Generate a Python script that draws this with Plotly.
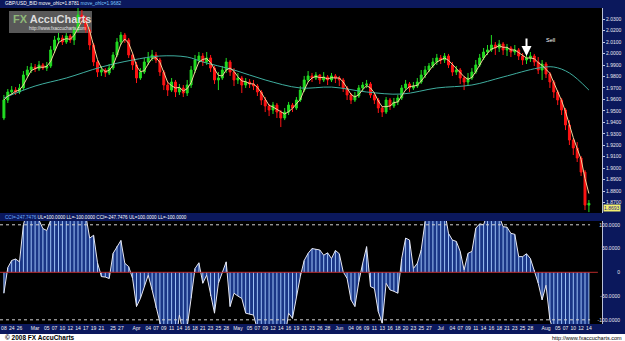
import pandas as pd
import plotly.graph_objects as go

W, H = 625, 341

# ---------------- data ----------------
bar_dates = [d.strftime("%Y-%m-%d") for d in pd.date_range("2008-02-21", "2008-08-14") if d.weekday() != 5]

opens = [1.9438,1.9595,1.9665,1.9682,1.9665,1.9700,1.9813,1.9857,1.9883,1.9866,
1.9901,1.9874,1.9892,2.0032,2.0119,2.0136,2.0101,2.0154,2.0119,2.0206,
2.0337,2.0311,2.0206,2.0075,1.9927,1.9839,1.9857,1.9831,1.9874,1.9988,
2.0101,2.0162,2.0119,1.9988,1.9901,1.9787,1.9839,1.9927,1.9962,1.9988,
1.9944,1.9839,1.9726,1.9682,1.9752,1.9665,1.9700,1.9656,1.9726,1.9857,
1.9944,1.9979,1.9927,1.9962,1.9874,1.9770,1.9787,1.9857,1.9927,1.9839,
1.9770,1.9787,1.9726,1.9752,1.9735,1.9717,1.9665,1.9595,1.9543,1.9508,
1.9551,1.9490,1.9438,1.9490,1.9551,1.9525,1.9595,1.9682,1.9770,1.9805,
1.9787,1.9813,1.9770,1.9796,1.9770,1.9805,1.9787,1.9770,1.9700,1.9639,
1.9595,1.9630,1.9700,1.9726,1.9735,1.9639,1.9595,1.9525,1.9490,1.9595,
1.9543,1.9578,1.9613,1.9700,1.9735,1.9700,1.9717,1.9752,1.9813,1.9857,
1.9892,1.9927,1.9962,1.9944,1.9979,1.9901,1.9839,1.9857,1.9787,1.9752,
1.9787,1.9839,1.9901,1.9962,2.0014,2.0032,2.0075,2.0049,2.0084,2.0032,
2.0049,2.0014,2.0032,1.9979,1.9944,1.9962,1.9979,1.9927,1.9857,1.9909,
1.9822,1.9752,1.9665,1.9595,1.9508,1.9377,1.9246,1.9176,1.9089,1.8966,
1.8678]

highs = [1.9639,1.9691,1.9717,1.9708,1.9735,1.9848,1.9892,1.9918,1.9909,1.9936,
1.9918,1.9927,2.0066,2.0154,2.0180,2.0162,2.0180,2.0171,2.0232,2.0398,
2.0381,2.0328,2.0232,2.0093,1.9944,1.9892,1.9874,1.9909,2.0014,2.0136,
2.0189,2.0180,2.0136,2.0005,1.9927,1.9874,1.9962,2.0014,2.0032,2.0014,
1.9962,1.9857,1.9752,1.9787,1.9770,1.9735,1.9726,1.9770,1.9892,1.9988,
2.0014,2.0005,2.0014,1.9988,1.9892,1.9839,1.9892,1.9962,1.9944,1.9874,
1.9831,1.9805,1.9787,1.9778,1.9770,1.9735,1.9682,1.9621,1.9560,1.9578,
1.9569,1.9508,1.9525,1.9578,1.9569,1.9621,1.9717,1.9805,1.9848,1.9831,
1.9839,1.9822,1.9839,1.9813,1.9831,1.9822,1.9805,1.9787,1.9717,1.9656,
1.9665,1.9726,1.9752,1.9770,1.9752,1.9656,1.9613,1.9543,1.9621,1.9613,
1.9613,1.9639,1.9726,1.9770,1.9752,1.9752,1.9787,1.9857,1.9892,1.9918,
1.9962,1.9997,1.9988,2.0005,1.9997,1.9927,1.9892,1.9874,1.9805,1.9831,
1.9874,1.9944,1.9997,2.0049,2.0075,2.0162,2.0101,2.0119,2.0101,2.0084,
2.0066,2.0075,2.0049,2.0005,1.9997,2.0014,1.9997,1.9970,1.9944,1.9927,
1.9839,1.9770,1.9682,1.9613,1.9525,1.9420,1.9263,1.9228,1.9106,1.8984,
1.8722]

lows = [1.9420,1.9569,1.9639,1.9639,1.9647,1.9682,1.9787,1.9831,1.9839,1.9848,
1.9857,1.9848,1.9874,2.0005,2.0084,2.0075,2.0084,2.0093,2.0075,2.0189,
2.0259,2.0180,2.0032,1.9892,1.9796,1.9805,1.9796,1.9813,1.9857,1.9970,
2.0075,2.0093,1.9962,1.9857,1.9743,1.9770,1.9822,1.9901,1.9936,1.9918,
1.9805,1.9682,1.9630,1.9665,1.9621,1.9639,1.9621,1.9630,1.9700,1.9831,
1.9918,1.9892,1.9901,1.9839,1.9735,1.9682,1.9770,1.9831,1.9805,1.9717,
1.9735,1.9656,1.9700,1.9700,1.9682,1.9630,1.9551,1.9490,1.9455,1.9473,
1.9438,1.9359,1.9420,1.9464,1.9490,1.9508,1.9578,1.9665,1.9752,1.9752,
1.9770,1.9735,1.9752,1.9726,1.9752,1.9743,1.9717,1.9665,1.9595,1.9560,
1.9578,1.9613,1.9674,1.9700,1.9613,1.9560,1.9482,1.9447,1.9473,1.9508,
1.9525,1.9551,1.9595,1.9682,1.9665,1.9682,1.9700,1.9735,1.9787,1.9839,
1.9874,1.9901,1.9909,1.9918,1.9874,1.9805,1.9813,1.9735,1.9682,1.9717,
1.9770,1.9822,1.9883,1.9944,1.9988,2.0014,1.9988,2.0014,1.9988,1.9979,
1.9970,1.9988,1.9944,1.9901,1.9909,1.9927,1.9892,1.9822,1.9770,1.9787,
1.9700,1.9613,1.9551,1.9464,1.9333,1.9202,1.9115,1.9054,1.8932,1.8635,
1.8617]

closes = [1.9595,1.9665,1.9682,1.9665,1.9700,1.9813,1.9857,1.9883,1.9866,1.9901,
1.9874,1.9892,2.0032,2.0119,2.0136,2.0101,2.0154,2.0119,2.0206,2.0337,
2.0311,2.0206,2.0075,1.9927,1.9839,1.9857,1.9831,1.9874,1.9988,2.0101,
2.0162,2.0119,1.9988,1.9901,1.9787,1.9839,1.9927,1.9962,1.9988,1.9944,
1.9839,1.9726,1.9682,1.9752,1.9665,1.9700,1.9656,1.9726,1.9857,1.9944,
1.9979,1.9927,1.9962,1.9874,1.9770,1.9787,1.9857,1.9927,1.9839,1.9770,
1.9787,1.9726,1.9752,1.9735,1.9717,1.9665,1.9595,1.9543,1.9508,1.9551,
1.9490,1.9438,1.9490,1.9551,1.9525,1.9595,1.9682,1.9770,1.9805,1.9787,
1.9813,1.9770,1.9796,1.9770,1.9805,1.9787,1.9770,1.9700,1.9639,1.9595,
1.9630,1.9700,1.9726,1.9735,1.9639,1.9595,1.9525,1.9490,1.9595,1.9543,
1.9578,1.9613,1.9700,1.9735,1.9700,1.9717,1.9752,1.9813,1.9857,1.9892,
1.9927,1.9962,1.9944,1.9979,1.9901,1.9839,1.9857,1.9787,1.9752,1.9787,
1.9839,1.9901,1.9962,2.0014,2.0032,2.0075,2.0049,2.0084,2.0032,2.0049,
2.0014,2.0032,1.9979,1.9944,1.9962,1.9979,1.9927,1.9857,1.9909,1.9822,
1.9752,1.9665,1.9595,1.9508,1.9377,1.9246,1.9176,1.9089,1.8966,1.8678,
1.8693]

# long moving average at selected bars
long_ma_idx = [0, 8, 16, 25, 33, 40, 47, 51, 59, 67, 76, 84, 93, 102, 111, 120, 128, 137, 141, 145, 150]
long_ma_val = [1.9613, 1.9717, 1.9787, 1.9883, 1.9944, 1.9979, 1.9970, 1.9927, 1.9857, 1.9770, 1.9700,
               1.9708, 1.9665, 1.9647, 1.9700, 1.9726, 1.9796, 1.9874, 1.9883, 1.9831, 1.9682]

cci = [-44,10,25,28,22,100,130,140,120,110,
92,88,110,160,150,140,150,140,170,200,
180,120,72,78,20,-9,-10,-13,40,55,
67,19,12,-13,-72,-55,-30,-6,-37,-75,
-111,-140,-160,-130,-150,-90,-130,-115,-55,8,
20,-23,-6,-50,-86,-23,0,22,-72,-44,
-50,-55,-86,-88,-90,-120,-150,-170,-180,-140,
-160,-190,-140,-86,-97,-51,-9,25,40,50,
49,47,36,41,29,46,39,1,-13,-58,
-72,-20,19,54,-30,-34,-83,-107,-23,-37,
-40,-44,29,72,68,8,19,47,107,150,
170,160,140,130,82,68,65,44,5,40,
44,93,102,100,130,150,140,120,96,95,
82,80,33,33,39,29,5,-23,-58,-27,
-100,-130,-160,-180,-200,-230,-250,-240,-230,-250,
-247.7476]
cci_upper, cci_lower = 100, -100

price_ticks = [1.87, 1.88, 1.89, 1.90, 1.91, 1.92, 1.93, 1.94, 1.95, 1.96, 1.97, 1.98, 1.99, 2.00, 2.01, 2.02, 2.03]
cci_ticks = [100, 50, 0, -50, -100]
cci_tick_text = ["100.0000", "50.0000", "0", "-50.0000", "-100.0000"]

tick_dates = ["2008-02-21","2008-02-24","2008-02-26","2008-03-02","2008-03-05","2008-03-07","2008-03-10",
"2008-03-12","2008-03-14","2008-03-17","2008-03-19","2008-03-21","2008-03-25","2008-03-27",
"2008-04-01","2008-04-04","2008-04-07","2008-04-09","2008-04-11","2008-04-14","2008-04-16",
"2008-04-18","2008-04-21","2008-04-23","2008-04-25","2008-04-28","2008-05-01","2008-05-05",
"2008-05-07","2008-05-09","2008-05-12","2008-05-14","2008-05-16","2008-05-19","2008-05-21",
"2008-05-23","2008-05-26","2008-05-28","2008-06-01","2008-06-04","2008-06-06","2008-06-09",
"2008-06-11","2008-06-13","2008-06-16","2008-06-18","2008-06-20","2008-06-23","2008-06-25",
"2008-06-27","2008-07-01","2008-07-04","2008-07-07","2008-07-09","2008-07-11","2008-07-14",
"2008-07-16","2008-07-18","2008-07-21","2008-07-23","2008-07-25","2008-07-28","2008-08-01",
"2008-08-05","2008-08-07","2008-08-10","2008-08-12","2008-08-14"]
tick_text = ["08","24","26","Mar","05","07","10","12","14","17","19","21","25","27",
"Apr","04","07","09","11","14","16","18","21","23","25","28","May","05",
"07","09","12","14","16","19","21","23","26","28","Jun","04","06","09",
"11","13","16","18","20","23","25","27","Jul","04","07","09","11","14",
"16","18","21","23","25","28","Aug","05","07","10","12","14"]

sell_date = "2008-07-27"
sell_price = 1.9979

# ---------------- derived ----------------
xi = list(range(len(bar_dates)))
tick_idx = [bar_dates.index(d) for d in tick_dates]
short_ma = pd.Series(closes).rolling(3, min_periods=1).mean().tolist()

stripe_x, stripe_y = [], []
for i, v in zip(xi, cci):
    stripe_x += [i, i, None]
    stripe_y += [0, v, None]

def px(x):
    return x / W

def py(y):
    return 1 - y / H

NAVY = "#0b185c"
FONT = "Liberation Sans, Arial, sans-serif"
x_dom = [0, px(602)]
top_dom = [py(213), py(8)]
bot_dom = [py(324), py(221)]

fig = go.Figure()

fig.add_trace(go.Candlestick(
    x=xi, open=opens, high=highs, low=lows, close=closes,
    increasing=dict(line=dict(color="#22dd22", width=1), fillcolor="#22dd22"),
    decreasing=dict(line=dict(color="#ff1414", width=1), fillcolor="#ff1414"),
    whiskerwidth=0, xaxis="x", yaxis="y", showlegend=False, hoverinfo="skip"))

fig.add_trace(go.Scatter(x=long_ma_idx, y=long_ma_val, mode="lines", line=dict(color="#3fae9f", width=1, shape="spline"),
                         xaxis="x", yaxis="y", showlegend=False, hoverinfo="skip"))
fig.add_trace(go.Scatter(x=xi, y=short_ma, mode="lines", line=dict(color="#f2d39a", width=1),
                         xaxis="x", yaxis="y", showlegend=False, hoverinfo="skip"))

# CCI panel
fig.add_trace(go.Scatter(x=xi, y=cci, mode="lines", fill="tozeroy", fillcolor="#1a3686",
                         line=dict(color="rgba(0,0,0,0)", width=0), xaxis="x2", yaxis="y2",
                         showlegend=False, hoverinfo="skip"))
fig.add_trace(go.Scatter(x=stripe_x, y=stripe_y, mode="lines", line=dict(color="#9cc0f6", width=1),
                         xaxis="x2", yaxis="y2", showlegend=False, hoverinfo="skip", connectgaps=False))
fig.add_trace(go.Scatter(x=xi, y=cci, mode="lines", line=dict(color="#e8e8f0", width=1),
                         xaxis="x2", yaxis="y2", showlegend=False, hoverinfo="skip"))

xr = [-1, 602 / 3.9 - 1]

shapes = [
    dict(type="rect", xref="paper", yref="paper", x0=0, x1=px(602), y0=top_dom[0], y1=top_dom[1],
         fillcolor="black", line=dict(width=0), layer="below"),
    dict(type="rect", xref="paper", yref="paper", x0=0, x1=px(602), y0=bot_dom[0], y1=bot_dom[1],
         fillcolor="black", line=dict(width=0), layer="below"),
    dict(type="rect", xref="paper", yref="paper", x0=px(9), x1=px(92), y0=py(33), y1=py(11),
         fillcolor="rgba(160,160,160,0.55)", line=dict(width=0), layer="below"),
    dict(type="rect", xref="paper", yref="paper", x0=0, x1=1, y0=0, y1=py(334),
         fillcolor="white", line=dict(width=0), layer="below"),
    dict(type="line", xref="paper", yref="paper", x0=px(602.5), x1=px(602.5), y0=top_dom[0], y1=top_dom[1],
         line=dict(color="#b8c0d8", width=1)),
    dict(type="line", xref="paper", yref="paper", x0=px(602.5), x1=px(602.5), y0=bot_dom[0], y1=bot_dom[1],
         line=dict(color="#b8c0d8", width=1)),
    dict(type="line", xref="x2", yref="y2", x0=-1, x1=150.3, y0=cci_upper, y1=cci_upper,
         line=dict(color="#d0d0d0", width=1, dash="dot")),
    dict(type="line", xref="x2", yref="y2", x0=-1, x1=150.3, y0=cci_lower, y1=cci_lower,
         line=dict(color="#d0d0d0", width=1, dash="dot")),
    dict(type="line", xref="x2", yref="y2", x0=-1, x1=152.3, y0=0, y1=0,
         line=dict(color="#b82a2a", width=1)),
]

ann = [
    dict(xref="paper", yref="paper", x=px(3), y=py(4), xanchor="left", yanchor="middle", showarrow=False,
         text='<span style="color:#ffffff">GBP/USD_BID move_ohlc=1.8781</span> <span style="color:#7cc8ff">move_ohlc=1.9682</span>',
         font=dict(size=4.8, family=FONT)),
    dict(xref="paper", yref="paper", x=px(3), y=py(217.5), xanchor="left", yanchor="middle", showarrow=False,
         text='<span style="color:#6fb0ff">CCI=-247.7476</span> <span style="color:#ffffff">UL=100.0000 LL=-100.0000 CCI=-247.7476 UL=100.0000 LL=-100.0000</span>',
         font=dict(size=4.6, family=FONT)),
    dict(xref="paper", yref="paper", x=px(3), y=py(337.8), xanchor="left", yanchor="middle", showarrow=False,
         text="<b>© 2008 FX AccuCharts</b>", font=dict(size=6.5, family=FONT, color="black")),
    dict(xref="paper", yref="paper", x=px(624), y=py(337.8), xanchor="right", yanchor="middle", showarrow=False,
         text="http://www.fxaccucharts.com", font=dict(size=5.5, family=FONT, color="black")),
    dict(xref="paper", yref="paper", x=px(11), y=py(19), xanchor="left", yanchor="middle", showarrow=False,
         text='<b><span style="color:#8fb878">FX</span> <span style="color:#dcdcdc">AccuCharts</span></b>',
         font=dict(size=11, family=FONT)),
    dict(xref="paper", yref="paper", x=px(27), y=py(28.5), xanchor="left", yanchor="middle", showarrow=False,
         text="http://www.fxaccucharts.com", font=dict(size=4.5, family=FONT, color="#e8e8e8")),
    dict(xref="x", yref="y", x=bar_dates.index(sell_date), y=sell_price, ax=0, ay=-19, showarrow=True,
         arrowhead=2, arrowsize=1, arrowwidth=2, arrowcolor="white", text=""),
    dict(xref="paper", yref="paper", x=px(544), y=py(40), xanchor="left", yanchor="middle", showarrow=False,
         text="Sell", font=dict(size=5.5, family=FONT, color="white")),
    dict(xref="paper", yref="paper", x=px(603), y=py(208), xanchor="left", yanchor="middle", showarrow=False,
         text="%.4f" % closes[-1], bgcolor="#f4f070", borderpad=0,
         font=dict(size=5, family=FONT, color="#1a1a80")),
]

fig.update_layout(
    width=W, height=H, margin=dict(l=0, r=0, t=0, b=0),
    paper_bgcolor=NAVY, plot_bgcolor="rgba(0,0,0,0)",
    showlegend=False, hovermode=False,
    font=dict(family=FONT, color="#e8e8f0", size=5),
    xaxis=dict(domain=x_dom, anchor="y", range=xr, showticklabels=False, showgrid=False, zeroline=False,
               rangeslider=dict(visible=False), ticks=""),
    yaxis=dict(domain=top_dom, anchor="x", side="right", range=[1.8609, 2.0398], tickvals=price_ticks,
               tickformat=".4f", showgrid=False, zeroline=False, ticks="outside", ticklen=2,
               tickcolor="#c0c8e0", tickfont=dict(size=5, color="#e8e8f0"), automargin=False),
    xaxis2=dict(domain=x_dom, anchor="y2", matches="x", range=xr, tickvals=tick_idx, ticktext=tick_text,
                tickangle=0, showgrid=False, zeroline=False, ticks="", tickfont=dict(size=5, color="#f0f0f0"),
                automargin=False),
    yaxis2=dict(domain=bot_dom, anchor="free", position=px(623), side="right", range=[-108.8, 108.0],
                tickvals=cci_ticks, ticktext=cci_tick_text, ticklabelposition="inside", ticks="",
                showgrid=False, zeroline=False, showline=False, tickfont=dict(size=5, color="#e8e8f0"),
                automargin=False),
    shapes=shapes, annotations=ann,
)

fig.write_html("out.html")
